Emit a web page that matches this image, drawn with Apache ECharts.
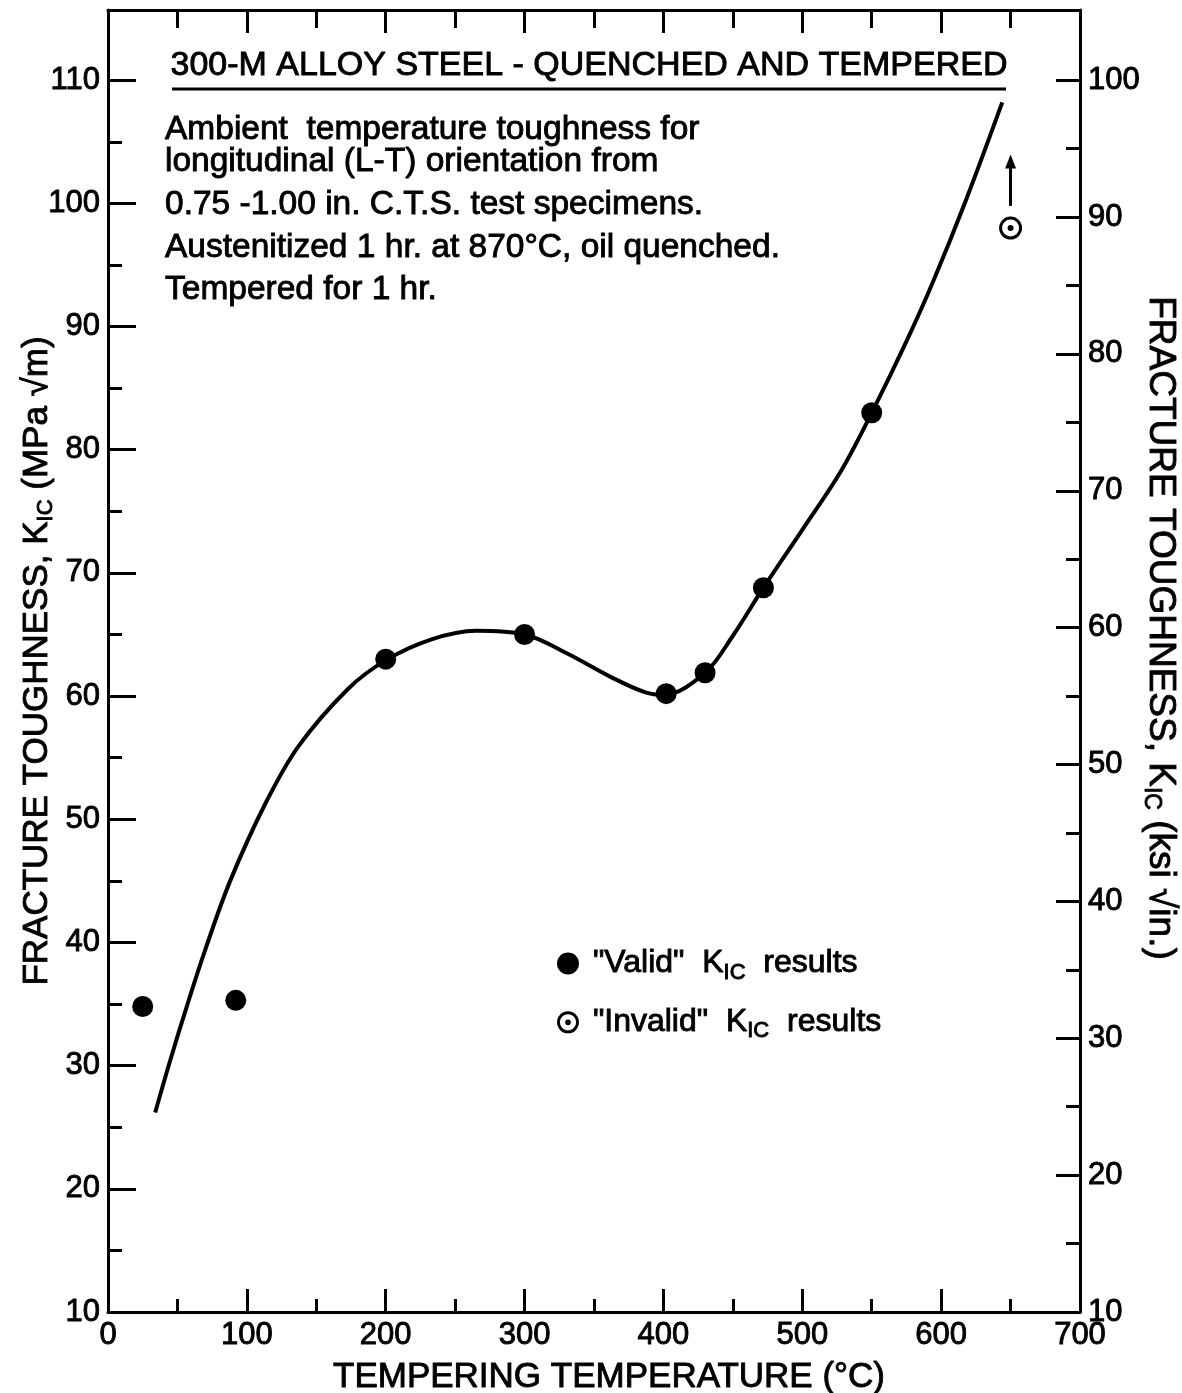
<!DOCTYPE html>
<html>
<head>
<meta charset="utf-8">
<script src="https://cdn.jsdelivr.net/npm/echarts@6/dist/echarts.min.js"></script>
<style>
  html, body { margin: 0; padding: 0; background: #fff; }
  #chart { width: 1182px; height: 1393px; }
</style>
</head>
<body>
<div id="chart"></div>
<script>
// Tempering temperature (deg C) and K_IC (MPa sqrt m) of the measured specimens
const validTemp = [25, 92, 200, 300, 402, 430, 472, 550];
const validKic  = [34.8, 35.3, 63.0, 65.0, 60.2, 61.9, 68.8, 83.0];

// Specimen that did not meet the validity criteria (true value is higher)
const invalidTemp = [650];
const invalidKic  = [98.0];
const arrowFrom = 99.8;
const arrowTo   = 103.4;

// Faired trend curve through the data
const curveTemp = [34, 45, 57, 70, 88, 113, 137, 173, 200, 233, 265, 300, 330, 363, 387, 400, 430, 450, 472, 500, 528, 550, 575, 594, 618, 644];
const curveKic  = [26.2, 30.5, 34.9, 39.4, 45.0, 51.2, 55.9, 60.6, 62.9, 64.6, 65.3, 65.0, 63.5, 61.5, 60.3, 60.1, 61.9, 64.9, 68.8, 73.5, 78.3, 83.0, 88.8, 93.6, 100.3, 108.2];

// Tick values
const xMajor = [0, 100, 200, 300, 400, 500, 600, 700];
const xMinor = [50, 150, 250, 350, 450, 550, 650];
const leftMajor = [10, 20, 30, 40, 50, 60, 70, 80, 90, 100, 110];
const leftMinor = [15, 25, 35, 45, 55, 65, 75, 85, 95, 105];
const rightMajor = [10, 20, 30, 40, 50, 60, 70, 80, 90, 100];
const rightMinor = [15, 25, 35, 45, 55, 65, 75, 85, 95];

const FONT = 'Liberation Sans';
const INK = '#000';
const STROKE = 0.9;   // slight outline so the lettering reads as pen-drawn

const zip = (a, b) => a.map((v, i) => [v, b[i]]);

const ringDot = 'path://M0,10A10,10 0 1,1 20,10A10,10 0 1,1 0,10Z' +
                'M2.6,10A7.4,7.4 0 1,0 17.4,10A7.4,7.4 0 1,0 2.6,10Z' +
                'M7.4,10A2.6,2.6 0 1,1 12.6,10A2.6,2.6 0 1,1 7.4,10Z';

const yMin = 10, yMax = 115.7;
const rMin = 10, rMax = 105.13;

const labelStyle = {
  color: INK, fontFamily: FONT, fontSize: 31, margin: 8,
  textBorderColor: INK, textBorderWidth: STROKE
};

function xAxisDef(pos, vals, len, major) {
  return {
    type: 'value', position: pos, min: 0, max: 700,
    axisLine: { show: major, onZero: false, lineStyle: { color: INK, width: 3 } },
    axisTick: { show: true, inside: true, length: len, customValues: vals, lineStyle: { color: INK, width: 3 } },
    axisLabel: (major && pos === 'bottom')
      ? Object.assign({ show: true, customValues: vals }, labelStyle)
      : { show: false },
    splitLine: { show: false }
  };
}

function yAxisDef(pos, min, max, vals, len, major) {
  return {
    type: 'value', position: pos, min: min, max: max, offset: 0,
    axisLine: { show: major, onZero: false, lineStyle: { color: INK, width: 3 } },
    axisTick: { show: true, inside: true, length: len, customValues: vals, lineStyle: { color: INK, width: 3 } },
    axisLabel: major
      ? Object.assign({ show: true, customValues: vals }, labelStyle)
      : { show: false },
    splitLine: { show: false }
  };
}

function richFor(size, subSize) {
  return {
    t: { fontFamily: FONT, fontSize: size, color: INK, lineHeight: 40, textBorderColor: INK, textBorderWidth: STROKE },
    s: { fontFamily: FONT, fontSize: subSize, color: INK, lineHeight: 16, verticalAlign: 'bottom', textBorderColor: INK, textBorderWidth: STROKE }
  };
}

const yLeft = yAxisDef('left', yMin, yMax, leftMajor, 28, true);
yLeft.name = '{t|FRACTURE TOUGHNESS, K}{s|IC}{t| (MPa √m)}';
yLeft.nameLocation = 'middle';
yLeft.nameRotate = 90;
yLeft.nameGap = 51;
yLeft.nameMoveOverlap = false;
yLeft.nameTextStyle = { rich: richFor(35, 22) };

const yRight = yAxisDef('right', rMin, rMax, rightMajor, 24, true);
yRight.name = '{t|FRACTURE TOUGHNESS, K}{s|IC}{t| (ksi √in.)}';
yRight.nameLocation = 'middle';
yRight.nameRotate = -90;
yRight.nameGap = 60;
yRight.nameMoveOverlap = false;
yRight.nameTextStyle = { rich: richFor(37, 23), padding: [0, 66, 0, 0] };

const xBottom = xAxisDef('bottom', xMajor, 23, true);
xBottom.name = 'TEMPERING TEMPERATURE (°C)';
xBottom.nameLocation = 'middle';
xBottom.nameGap = 48;
xBottom.nameMoveOverlap = false;
xBottom.nameTextStyle = { fontFamily: FONT, fontSize: 35, color: INK, textBorderColor: INK, textBorderWidth: STROKE,
                          padding: [0, 0, 0, 30] };

const noteLines = [
  'Ambient  temperature toughness for',
  'longitudinal (L-T) orientation from',
  '0.75 -1.00 in. C.T.S. test specimens.',
  'Austenitized 1 hr. at 870°C, oil quenched.',
  'Tempered for 1 hr.'
];
const noteY = [130, 162, 205, 248, 290];

const graphics = [
  {
    type: 'text', x: 589, y: 66,
    style: { text: '300-M ALLOY STEEL - QUENCHED AND TEMPERED', fontFamily: FONT, fontSize: 34,
             fill: INK, stroke: INK, lineWidth: STROKE, align: 'center', verticalAlign: 'middle' }
  },
  {
    type: 'line', shape: { x1: 172, y1: 89, x2: 1006, y2: 89 },
    style: { stroke: INK, lineWidth: 3 }
  }
].concat(noteLines.map((t, i) => ({
  type: 'text', x: 165, y: noteY[i],
  style: { text: t, fontFamily: FONT, fontSize: 33.5, fill: INK, stroke: INK, lineWidth: STROKE,
           align: 'left', verticalAlign: 'middle' }
})));

const option = {
  animation: false,
  backgroundColor: '#fff',
  grid: { left: 108, right: 102, top: 10, bottom: 81, containLabel: false, outerBoundsMode: 'none' },
  xAxis: [
    xBottom,
    xAxisDef('bottom', xMinor, 13, false),
    xAxisDef('top', xMajor, 23, true),
    xAxisDef('top', xMinor, 18, false)
  ],
  yAxis: [
    yLeft,
    yAxisDef('left', yMin, yMax, leftMinor, 14, false),
    yRight,
    yAxisDef('right', rMin, rMax, rightMinor, 14, false)
  ],
  legend: {
    orient: 'vertical', left: 552, top: 942,
    itemWidth: 22, itemHeight: 22, itemGap: 22,
    selectedMode: false,
    data: ['Valid', 'Invalid'],
    formatter: function (name) {
      return name === 'Valid'
        ? '{t| "Valid"  K}{s|IC}{t|  results}'
        : '{t| "Invalid"  K}{s|IC}{t|  results}';
    },
    textStyle: { rich: richFor(32, 22) }
  },
  graphic: graphics,
  series: [
    {
      name: 'Curve', type: 'line', xAxisIndex: 0, yAxisIndex: 0,
      data: zip(curveTemp, curveKic),
      smooth: 0.35, showSymbol: false, symbol: 'none',
      lineStyle: { color: INK, width: 4 },
      silent: true, z: 2
    },
    {
      name: 'Valid', type: 'scatter', xAxisIndex: 0, yAxisIndex: 0,
      data: zip(validTemp, validKic),
      symbol: 'circle', symbolSize: 21,
      itemStyle: { color: INK, opacity: 1 },
      z: 3
    },
    {
      name: 'Invalid', type: 'scatter', xAxisIndex: 0, yAxisIndex: 0,
      data: zip(invalidTemp, invalidKic),
      symbol: ringDot, symbolSize: 23,
      itemStyle: { color: INK, opacity: 1 },
      z: 3,
      markLine: {
        silent: true,
        symbol: ['none', 'triangle'],
        symbolSize: [11, 14],
        lineStyle: { color: INK, width: 3, type: 'solid', opacity: 1 },
        label: { show: false },
        emphasis: { disabled: true },
        data: [[{ coord: [invalidTemp[0], arrowFrom] }, { coord: [invalidTemp[0], arrowTo] }]]
      }
    }
  ]
};

const chart = echarts.init(document.getElementById('chart'), null, { renderer: 'canvas' });
chart.setOption(option);
</script>
</body>
</html>
